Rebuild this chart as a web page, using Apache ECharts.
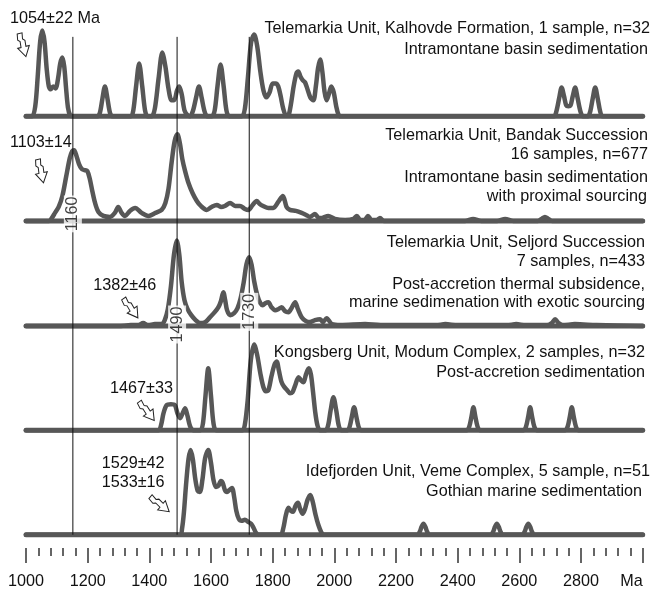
<!DOCTYPE html>
<html>
<head>
<meta charset="utf-8">
<script src="https://cdn.jsdelivr.net/npm/echarts@6/dist/echarts.min.js"></script>
<style>html,body{margin:0;padding:0;background:#fff}#c{width:654px;height:590px}</style>
</head>
<body>
<div id="c"></div>
<script>
// ---- DATA (age in Ma, relative probability height) ----
const xTickLabels = ['1000','1200','1400','1600','1800','2000','2200','2400','2600','2800','Ma'];

const kalhovde = [[1000,0],[1020,0],[1030,10],[1038,40],[1046,75],[1053,86],[1060,75],[1067,48],[1074,30],[1080,27],[1088,30],[1096,28],[1104,38],[1111,53],[1118,59],[1124,50],[1130,28],[1136,9],[1143,1],[1150,0],
[1232,0],[1240,4],[1248,18],[1256,30],[1264,18],[1272,4],[1280,0],
[1340,0],[1348,6],[1357,30],[1367,53],[1377,30],[1386,6],[1394,0],
[1408,0],[1418,8],[1430,38],[1442,64],[1452,50],[1462,28],[1472,16],[1480,16],[1490,26],[1497,30],[1505,22],[1514,6],[1524,1],
[1532,0],[1541,5],[1551,18],[1561,30],[1570,18],[1579,5],[1588,0],
[1603,0],[1612,6],[1621,30],[1631,52],[1641,30],[1650,6],[1659,0],
[1700,0],[1710,8],[1720,40],[1730,74],[1740,82],[1750,70],[1760,45],[1770,26],[1780,19],[1790,24],[1800,33],[1810,33],[1818,30],[1826,20],[1834,8],[1843,1],[1850,1],[1858,10],[1868,30],[1877,43],[1883,45],[1890,40],[1898,36],[1905,34],[1913,27],[1922,19],[1932,16],[1940,30],[1947,48],[1954,57],[1961,45],[1968,25],[1975,16],[1982,22],[1990,30],[1998,24],[2006,10],[2013,2],[2020,0],
[2712,0],[2720,5],[2729,18],[2737,29],[2745,20],[2752,11],[2759,10],[2766,11],[2773,20],[2781,29],[2789,18],[2798,5],[2806,0],[2822,0],[2830,5],[2838,18],[2846,29],[2854,18],[2862,5],[2870,0],[3000,0]];

const bandak = [[1000,0],[1075,0],[1084,3],[1094,8],[1106,14],[1118,25],[1130,44],[1142,63],[1150,70],[1156,71],[1163,66],[1172,57],[1181,52],[1190,51],[1199,50],[1207,42],[1215,30],[1224,18],[1235,9],[1251,5],[1272,4],[1288,8],[1299,14],[1310,8],[1321,5],[1337,10],[1354,13],[1375,8],[1397,5],[1420,8],[1440,11],[1452,18],[1462,32],[1472,58],[1482,80],[1491,87],[1499,78],[1507,62],[1516,50],[1527,38],[1540,28],[1554,20],[1567,15],[1586,11],[1602,14],[1619,16],[1632,14],[1645,15],[1662,18],[1678,15],[1694,15],[1710,12],[1721,11],[1735,16],[1748,20],[1758,17],[1769,15],[1786,13],[1802,13],[1818,19],[1833,25],[1845,14],[1856,11],[1875,10],[1894,8],[1908,6],[1921,4],[1937,7],[1950,3],[1960,3],[1980,5],[2002,2],[2035,1],[2062,2],[2073,5],[2084,1],[2098,1],[2109,5],[2120,1],[2138,1],[2148,3],[2160,0],[2174,0],[2424,0],[2450,2],[2476,0],[2528,0],[2554,2],[2580,0],[2660,0],[2672,2],[2683,4],[2694,2],[2706,0],[3000,0]];

const seljord = [[1000,0],[1300,0],[1340,1],[1363,1],[1380,3],[1396,1],[1418,2],[1440,2],[1450,6],[1460,17],[1470,40],[1480,72],[1489,86],[1497,72],[1505,44],[1514,26],[1524,17],[1536,11],[1550,6],[1564,3],[1581,4],[1597,9],[1612,14],[1624,19],[1632,25],[1640,34],[1646,26],[1652,16],[1662,11],[1675,13],[1686,18],[1696,28],[1706,44],[1715,62],[1724,69],[1732,61],[1740,45],[1750,31],[1760,23],[1768,21],[1776,23],[1786,24],[1796,19],[1808,16],[1818,17],[1829,19],[1840,15],[1851,14],[1861,18],[1873,24],[1882,17],[1894,9],[1908,5],[1921,4],[1937,6],[1954,7],[1963,4],[1975,8],[1992,2],[2020,1],[2100,2],[2150,1],[2200,1],[2330,1],[2360,2],[2400,1],[2560,1],[2590,2],[2620,1],[2690,1],[2705,3],[2716,7],[2727,3],[2740,1],[2780,2],[2850,1],[3000,0]];

const modum = [[1000,0],[1430,0],[1438,5],[1446,17],[1456,25],[1470,26],[1483,25],[1491,17],[1500,12],[1508,17],[1516,22],[1524,14],[1532,4],[1542,0],[1566,0],[1574,7],[1582,34],[1591,62],[1600,34],[1608,7],[1617,0],
[1702,0],[1710,6],[1719,30],[1729,70],[1740,86],[1750,75],[1760,57],[1770,43],[1778,39],[1786,40],[1796,54],[1806,66],[1813,69],[1820,60],[1828,49],[1836,44],[1847,40],[1856,37],[1864,38],[1873,45],[1884,53],[1892,50],[1900,48],[1908,56],[1917,62],[1924,56],[1931,38],[1938,18],[1945,5],[1953,0],
[1972,0],[1980,5],[1988,20],[1997,33],[2006,20],[2014,5],[2022,0],[2043,0],[2050,4],[2057,14],[2064,23],[2071,14],[2078,4],[2086,0],
[2430,0],[2438,4],[2445,14],[2451,23],[2457,14],[2464,4],[2472,0],[2614,0],[2622,4],[2629,14],[2635,23],[2641,14],[2648,4],[2656,0],[2749,0],[2757,4],[2764,14],[2770,23],[2776,14],[2783,4],[2791,0],[3000,0]];

const veme = [[1000,0],[1500,0],[1506,6],[1512,22],[1519,50],[1527,76],[1534,85],[1541,76],[1549,56],[1557,44],[1564,43],[1572,55],[1581,77],[1591,85],[1600,72],[1608,55],[1616,48],[1624,49],[1632,54],[1638,52],[1645,45],[1652,43],[1660,45],[1668,47],[1675,38],[1682,24],[1690,16],[1699,14],[1710,15],[1720,13],[1730,11],[1738,7],[1746,2],[1754,0],
[1826,0],[1834,6],[1843,20],[1851,27],[1859,24],[1866,23],[1874,29],[1882,32],[1889,26],[1897,21],[1904,25],[1913,35],[1922,40],[1930,33],[1939,20],[1948,10],[1957,3],[1966,0],
[2270,0],[2277,3],[2283,8],[2289,11],[2295,8],[2301,3],[2308,0],[2508,0],[2515,3],[2521,8],[2527,11],[2533,8],[2539,3],[2546,0],[2610,0],[2617,3],[2623,8],[2629,11],[2635,8],[2641,3],[2648,0],[3000,0]];

const refAges = [1152, 1490, 1724];
const refLabels = ['1160', '1490', '1730'];

const panelTitles = [
 ['Telemarkia Unit, Kalhovde Formation, 1 sample, n=32','Intramontane basin sedimentation'],
 ['Telemarkia Unit, Bandak Succession','16 samples, n=677','Intramontane basin sedimentation','with proximal sourcing'],
 ['Telemarkia Unit, Seljord Succession','7 samples, n=433','Post-accretion thermal subsidence,','marine sedimenation with exotic sourcing'],
 ['Kongsberg Unit, Modum Complex, 2 samples, n=32','Post-accretion sedimentation'],
 ['Idefjorden Unit, Veme Complex, 5 sample, n=51','Gothian marine sedimentation']
];
const ageNotes = ['1054±22 Ma','1103±14','1382±46','1467±33','1529±42','1533±16'];

// ---- LAYOUT / STYLE ----
const FONT = '"Liberation Sans", Arial, Helvetica, sans-serif';
const FS = 16.2;
const CURVE = '#575757';
const panels = [kalhovde, bandak, seljord, modum, veme];
const offsets = [420, 315, 209.4, 105, 0];
const titlePos = [
 [[650,28.3],[648,50]],
 [[648,136],[648,155],[648,178],[647,197]],
 [[645,243],[645,262],[645,285],[645,303]],
 [[645,352.7],[645,372.7]],
 [[650,471.7],[642,491.7]]
];
const notePos = [[10,18.3],[10,142.7],[93.3,285.7],[110,389],[101.7,464],[101.7,482.3]];
const arrows = [[23,45,14],[41,171,12],[131,308,35],[147,411,37],[160,504,50]];
const refLabelY = [322, 211, 223.7];

const series = [];
refAges.forEach(a => {
  series.push({type:'line', data:[[a,0],[a,499.7]], symbol:'none', silent:true,
    lineStyle:{color:'#111', width:1}, z:5});
});
panels.forEach((p, i) => {
  const off = offsets[i];
  series.push({type:'line', data:[[1000,off],[3000,off]], symbol:'none', silent:true,
    lineStyle:{color:CURVE, width:5, cap:'round'}, z:3});
  series.push({type:'line', data:p.map(d => [d[0], d[1] + off]), symbol:'none', smooth:0.3,
    silent:true, lineStyle:{color:CURVE, width:4.5, cap:'round', join:'round'}, z:4});
});
series.push({type:'scatter', symbolSize:1, itemStyle:{color:'rgba(0,0,0,0)'}, z:10, silent:true,
  data: refAges.map((a, i) => ({value:[a, refLabelY[i]], label:{formatter: refLabels[i]}})),
  label:{show:true, position:'inside', rotate:90, fontSize:FS, fontFamily:FONT, color:'#111',
    backgroundColor:'#fff', padding:[1,1,0,1], lineHeight:17}
});

const graphic = [];
panelTitles.forEach((lines, i) => lines.forEach((t, j) => {
  graphic.push({type:'text', x:titlePos[i][j][0], y:titlePos[i][j][1], silent:true,
    style:{text:t, font:FS + 'px ' + FONT, fill:'#111', textAlign:'right', textVerticalAlign:'middle'}});
}));
ageNotes.forEach((t, i) => {
  graphic.push({type:'text', x:notePos[i][0], y:notePos[i][1], silent:true,
    style:{text:t, font:FS + 'px ' + FONT, fill:'#111', textAlign:'left', textVerticalAlign:'middle'}});
});
arrows.forEach(a => {
  graphic.push({type:'polygon', x:a[0], y:a[1], rotation:a[2]*Math.PI/180, silent:true, z:20,
    shape:{points:[[-3,-12],[2,-12],[1,-6],[3,-4],[2.5,2],[6,2],[0,12],[-6,2],[-2.5,2],[-2,-4],[-4,-6]]},
    style:{fill:'#fff', stroke:'#222', lineWidth:1}});
});

const chart = echarts.init(document.getElementById('c'), null, {renderer:'canvas'});
chart.setOption({
  animation:false,
  backgroundColor:'#fff',
  grid:{left:26, right:11.3, top:0, bottom:40, containLabel:false},
  xAxis:{type:'value', min:1000, max:3000, interval:200,
    axisLine:{show:false, onZero:false},
    axisTick:{show:true, inside:false, length:15, lineStyle:{color:'#333', width:1.5}},
    minorTick:{show:true, splitNumber:5, length:8, lineStyle:{color:'#333', width:1.5}},
    splitLine:{show:false}, minorSplitLine:{show:false},
    axisLabel:{fontSize:FS, fontFamily:FONT, color:'#111', margin:26, alignMaxLabel:'right',
      formatter: v => xTickLabels[Math.round((v - 1000) / 200)]}
  },
  yAxis:{type:'value', min:-13.3, max:536.7, show:false},
  series: series,
  graphic: graphic
});
</script>
</body>
</html>
